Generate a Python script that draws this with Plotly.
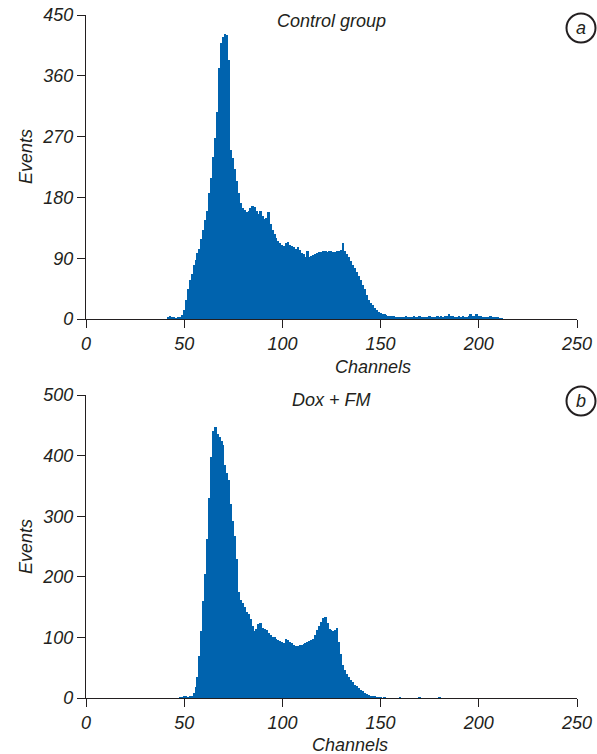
import plotly.graph_objects as go

# Flow cytometry DNA histograms: events per channel
control_start = 40
control_events = [
    0, 0, 2, 4, 3, 2, 1, 2, 3, 6,            # 40-49
    14, 28, 44, 58, 66, 80, 88, 97, 104, 118,  # 50-59
    132, 146, 160, 186, 208, 240, 268, 306, 372, 408,  # 60-69
    418, 422, 420, 384, 250, 238, 222, 204, 186, 172,  # 70-79
    164, 162, 158, 160, 164, 168, 166, 160, 156, 160,  # 80-89
    152, 148, 150, 158, 140, 132, 126, 120, 116, 112,  # 90-99
    110, 108, 112, 114, 110, 108, 106, 104, 106, 102,  # 100-109
    98, 96, 92, 100, 92, 93, 95, 96, 98, 99,   # 110-119
    99, 100, 100, 99, 100, 100, 99, 99, 100, 100,  # 120-129
    102, 112, 100, 96, 92, 86, 80, 76, 70, 64,  # 130-139
    58, 50, 44, 36, 28, 24, 20, 16, 13, 11,    # 140-149
    9, 8, 7, 6, 5, 5, 4, 4, 3, 3,              # 150-159
    3, 3, 3, 4, 3, 3, 3, 4, 3, 3,              # 160-169
    4, 3, 2, 3, 3, 4, 3, 3, 3, 4,              # 170-179
    3, 4, 3, 4, 5, 8, 5, 4, 3, 3,              # 180-189
    4, 3, 4, 3, 3, 5, 7, 5, 4, 7,              # 190-199
    5, 4, 3, 3, 3, 3, 4, 3, 2, 2,              # 200-209
    2, 1, 1,                                   # 210-212
]

dox_start = 48
dox_events = [
    1, 1,                                      # 48-49
    2, 2, 1, 2, 4, 8, 18, 34, 70, 110,         # 50-59
    160, 205, 262, 330, 398, 440, 448, 436, 430, 424,  # 60-69
    418, 384, 372, 360, 320, 292, 268, 230, 175, 162,  # 70-79
    156, 150, 142, 138, 130, 118, 110, 114, 122, 124,  # 80-89
    116, 114, 112, 108, 104, 101, 100, 98, 96, 94,  # 90-99
    92, 90, 98, 96, 93, 90, 88, 85, 86, 88,    # 100-109
    88, 89, 90, 92, 94, 96, 98, 104, 112, 118,  # 110-119
    126, 132, 134, 124, 114, 112, 110, 112, 116, 92,  # 120-129
    72, 54, 46, 40, 35, 30, 26, 22, 19, 16,    # 130-139
    13, 11, 9, 7, 5, 4, 3, 2, 1, 1,            # 140-149
    1, 0, 1, 0, 0, 0, 0, 0, 0, 0,              # 150-159
    1, 0, 0, 0, 0, 0, 0, 0, 0, 0,              # 160-169
    1, 0, 0, 0, 0, 0, 0, 0, 0, 0,              # 170-179
    1,                                         # 180
]

control_channels = list(range(control_start, control_start + len(control_events)))
dox_channels = list(range(dox_start, dox_start + len(dox_events)))

panel_titles = ["Control group", "Dox + FM"]
panel_letters = ["a", "b"]
x_ticks = [0, 50, 100, 150, 200, 250]
y_ticks_a = [0, 90, 180, 270, 360, 450]
y_ticks_b = [0, 100, 200, 300, 400, 500]

BLUE = "#0063ae"
INK = "#231f20"
FONT = "Liberation Sans, Arial, sans-serif"

W, H = 597, 754
ML, MR, MT, MB = 86, 20, 15, 56
plot_h = H - MT - MB


def py(pix):
    """Convert a pixel row (from the top) into paper y."""
    return 1 - (pix - MT) / plot_h


def px(pix):
    return (pix - ML) / (W - ML - MR)


fig = go.Figure()
fig.add_trace(go.Bar(x=control_channels, y=control_events, width=1,
                     marker=dict(color=BLUE, line=dict(width=0)),
                     xaxis="x", yaxis="y", showlegend=False))
fig.add_trace(go.Bar(x=dox_channels, y=dox_events, width=1,
                     marker=dict(color=BLUE, line=dict(width=0)),
                     xaxis="x2", yaxis="y2", showlegend=False))

axis_common = dict(showline=True, linecolor=INK, linewidth=1.3,
                   ticks="outside", ticklen=8, tickwidth=1.3, tickcolor=INK,
                   showgrid=False, zeroline=False, mirror=False, automargin=False)

xfont = dict(family=FONT, size=18, color=INK, style="italic")
yfont = dict(family=FONT, size=18, color=INK, style="italic")

fig.update_layout(
    width=W, height=H,
    margin=dict(l=ML, r=MR, t=MT, b=MB, autoexpand=False),
    paper_bgcolor="white", plot_bgcolor="white",
    bargap=0,
    xaxis=dict(domain=[0, 1], range=[0, 250], tickvals=x_ticks,
               anchor="y", tickfont=xfont, **axis_common),
    yaxis=dict(domain=[py(319), 1], range=[0, 450], tickvals=y_ticks_a,
               anchor="x", tickfont=yfont, **axis_common),
    xaxis2=dict(domain=[0, 1], range=[0, 250], tickvals=x_ticks,
                anchor="y2", tickfont=xfont, **axis_common),
    yaxis2=dict(domain=[0, py(395)], range=[0, 500], tickvals=y_ticks_b,
                anchor="x2", tickfont=yfont, **axis_common),
)

label_font = dict(family=FONT, size=18, color=INK, style="italic")
annotations = []
# axis titles
for xc, yc in [(373, 367), (350, 745)]:
    annotations.append(dict(text="Channels", x=px(xc), y=py(yc), xref="paper", yref="paper",
                            xanchor="center", yanchor="middle", showarrow=False, font=label_font))
for yc in [157, 547]:
    annotations.append(dict(text="Events", x=px(26), y=py(yc), xref="paper", yref="paper",
                            xanchor="center", yanchor="middle", showarrow=False,
                            textangle=-90, font=label_font))
# panel titles
for title, (xc, yc) in zip(panel_titles, [(331, 21), (331, 400)]):
    annotations.append(dict(text=title, x=px(xc), y=py(yc), xref="paper", yref="paper",
                            xanchor="center", yanchor="middle", showarrow=False, font=label_font))
# circled panel letters
shapes = []
for letter, (cx, cy) in zip(panel_letters, [(581, 28), (581, 401)]):
    shapes.append(dict(type="circle", xref="paper", yref="paper",
                       x0=px(cx - 14.5), x1=px(cx + 14.5), y0=py(cy + 14.5), y1=py(cy - 14.5),
                       line=dict(color=INK, width=2), fillcolor="rgba(0,0,0,0)"))
    annotations.append(dict(text=letter, x=px(cx), y=py(cy), xref="paper", yref="paper",
                            xanchor="center", yanchor="middle", showarrow=False, font=label_font))

fig.update_layout(annotations=annotations, shapes=shapes)
fig.write_html("out.html")
